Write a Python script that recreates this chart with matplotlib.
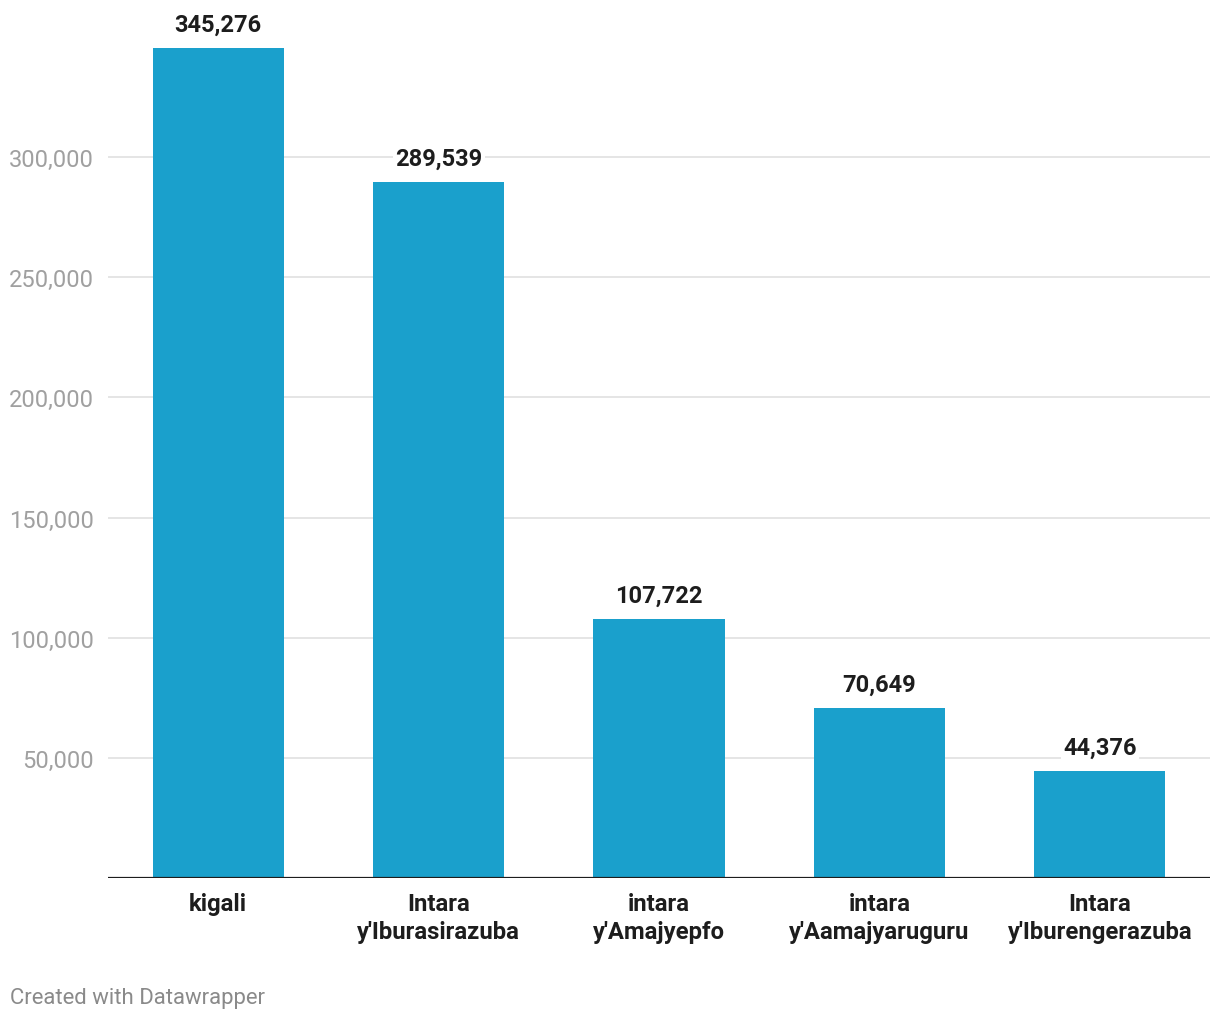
import matplotlib.pyplot as plt
from matplotlib.ticker import FuncFormatter

categories = ["kigali", "Intara\ny'Iburasirazuba", "intara\ny'Amajyepfo",
              "intara\ny'Aamajyaruguru", "Intara\ny'Iburengerazuba"]
values = [345276, 289539, 107722, 70649, 44376]
yticks = [50000, 100000, 150000, 200000, 250000, 300000]

plt.rcParams['font.family'] = ['Roboto', 'DejaVu Sans']

fig = plt.figure(figsize=(12.2, 10.2), dpi=100)
ax = fig.add_axes([108 / 1220, 141 / 1020, 1102 / 1220, 865 / 1020])

x = list(range(len(categories)))
ax.bar(x, values, width=0.595, color="#1aa0cc", zorder=2)

for xi, v in zip(x, values):
    ax.annotate(f"{v:,}", (xi, v), xytext=(0, 17), textcoords="offset points",
                ha="center", va="center", fontsize=17, fontweight="bold",
                color="#1d1d1d", zorder=4,
                bbox=dict(boxstyle="square,pad=0.1", fc="white", ec="none"))

ax.set_xlim(-0.5, 4.5)
ax.set_ylim(0, 360000)
ax.set_yticks(yticks)
ax.yaxis.set_major_formatter(FuncFormatter(lambda v, p: f"{int(v):,}"))
ax.grid(axis="y", color="#e0e0e0", linewidth=1.2, zorder=0)
ax.axhline(0, color="#1d1d1d", linewidth=1.6, zorder=3)

ax.set_xticks(x)
ax.set_xticklabels(categories, fontsize=17.2, fontweight="bold", color="#1d1d1d",
                   linespacing=1.3)
ax.tick_params(axis="x", length=0, pad=10)
ax.tick_params(axis="y", length=0, pad=10, labelsize=17, labelcolor="#a0a0a0")

for s in ax.spines.values():
    s.set_visible(False)

fig.text(10 / 1220, 1 - 999 / 1020, "Created with Datawrapper", fontsize=15.9,
         color="#8a8a8a", ha="left", va="center")

fig.savefig("out.png", dpi=100)
